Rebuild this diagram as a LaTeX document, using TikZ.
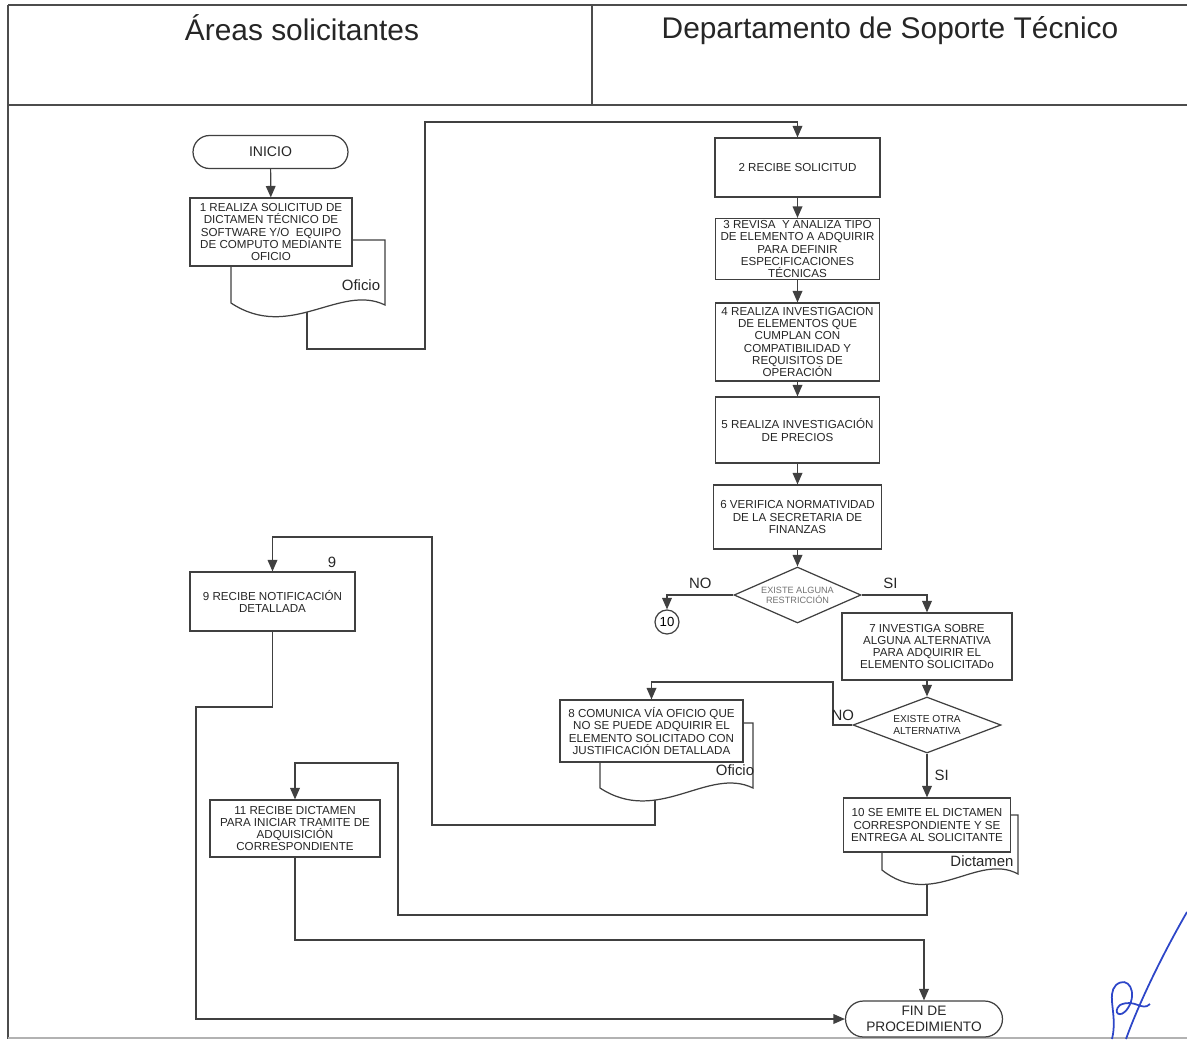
\documentclass[tikz,border=0pt]{standalone}
\usepackage{fontspec}
\setmainfont{Liberation Sans}
\usetikzlibrary{shapes.geometric,shapes.misc,arrows.meta,backgrounds}
\definecolor{firma}{RGB}{45,70,200}

\begin{document}
\begin{tikzpicture}[x=0.02cm, y=-0.02cm,
    marco/.style={draw=black!70, line width=0.8pt},
    flecha/.style={draw=black!75, line width=0.7pt, -{Triangle[length=6.5pt,width=5.5pt]}},
    hoja/.style={draw=black!75, line width=0.7pt, fill=white},
    paso/.style={rectangle, draw=black!75, line width=0.7pt, fill=white, align=center, inner sep=0pt,
        font=\fontsize{6.6}{7}\selectfont, text=black!85},
    pregunta/.style={diamond, draw=black!75, line width=0.7pt, fill=white, align=center, inner sep=0pt, aspect=2.3},
    limite/.style={rounded rectangle, draw=black!75, line width=0.7pt, fill=white, align=center, inner sep=0pt, text=black!85},
    etiq/.style={font=\fontsize{8.5}{10}\selectfont, text=black!85, inner sep=1pt}]
    \useasboundingbox (0,0) rectangle (1187,1039);

    % frame and lanes
    \draw[marco] (8,5) -- (1187,5);
    \draw[marco] (8,105) -- (1187,105);
    \draw[marco] (592,5) -- (592,105);
    \draw[marco] (8,5) -- (8,1039);
    \draw[black!30, line width=0.8pt] (8,1038) -- (1187,1038);
    \node[font=\fontsize{17}{20}\selectfont, text=black!85, anchor=base] (carril1) at (302,40) {Áreas solicitantes};
    \node[font=\fontsize{17}{20}\selectfont, text=black!85, anchor=base] (carril2) at (890,38) {Departamento de Soporte Técnico};

    % documents behind the boxes
    \draw[hoja] (231,240) -- (385,240) -- (385,305) .. controls (340,283) and (290,342) .. (231,303) -- cycle;
    \node[etiq] (of1) at (361,285) {Oficio};
    \coordinate (o1) at (307,300);
    \draw[hoja] (600,723) -- (753,723) -- (753,788) .. controls (708,766) and (658,826) .. (600,788) -- cycle;
    \node[etiq] (of8) at (735,770) {Oficio};
    \coordinate (o8) at (655,778);
    \draw[hoja] (882,815) -- (1018,815) -- (1018,874) .. controls (978,852) and (932,910) .. (882,870) -- cycle;
    \node[etiq] (dic) at (982,861) {Dictamen};
    \coordinate (o10) at (927,862);

    % left lane
    \node[limite, minimum width=3.1cm, minimum height=0.66cm, font=\fontsize{8}{9}\selectfont] (inicio) at (270.5,152) {INICIO};
    \node[paso, minimum width=3.24cm, minimum height=1.36cm] (a1) at (271,232)
        {1 REALIZA SOLICITUD DE\\DICTAMEN TÉCNICO DE\\SOFTWARE Y/O \ EQUIPO\\DE COMPUTO MEDIANTE\\OFICIO};
    \node[paso, minimum width=3.3cm, minimum height=1.18cm] (a9) at (272.5,601.5)
        {9 RECIBE NOTIFICACIÓN\\DETALLADA};
    \node[etiq] (n9) at (332,562) {9};
    \node[paso, minimum width=3.4cm, minimum height=1.14cm] (a11) at (295,828.5)
        {11 RECIBE DICTAMEN\\PARA INICIAR TRAMITE DE\\ADQUISICIÓN\\CORRESPONDIENTE};

    % right lane
    \node[paso, minimum width=3.3cm, minimum height=1.18cm] (a2) at (797.5,167.5) {2 RECIBE SOLICITUD};
    \node[paso, minimum width=3.28cm, minimum height=1.22cm] (a3) at (797.5,249)
        {3 REVISA \ Y ANALIZA TIPO\\DE ELEMENTO A ADQUIRIR\\PARA DEFINIR\\ESPECIFICACIONES\\TÉCNICAS};
    \node[paso, minimum width=3.28cm, minimum height=1.56cm] (a4) at (797.5,342)
        {4 REALIZA INVESTIGACION\\DE ELEMENTOS QUE\\CUMPLAN CON\\COMPATIBILIDAD Y\\REQUISITOS DE\\OPERACIÓN};
    \node[paso, minimum width=3.28cm, minimum height=1.32cm] (a5) at (797.5,430)
        {5 REALIZA INVESTIGACIÓN\\DE PRECIOS};
    \node[paso, minimum width=3.36cm, minimum height=1.28cm] (a6) at (797.5,517)
        {6 VERIFICA NORMATIVIDAD\\DE LA SECRETARIA DE\\FINANZAS};
    \node[pregunta, minimum width=2.54cm, minimum height=1.12cm, font=\fontsize{5.2}{5.8}\selectfont, text=black!55] (d1) at (797.5,595)
        {EXISTE ALGUNA\\RESTRICCIÓN};
    \node[circle, draw=black!75, line width=0.7pt, fill=white, minimum size=0.48cm, inner sep=0pt, font=\fontsize{7.5}{9}\selectfont] (c10) at (667,622) {10};
    \node[paso, minimum width=3.4cm, minimum height=1.34cm] (a7) at (927,646.5)
        {7 INVESTIGA SOBRE\\ALGUNA ALTERNATIVA\\PARA ADQUIRIR EL\\ELEMENTO SOLICITADo};
    \node[pregunta, minimum width=2.96cm, minimum height=1.12cm, font=\fontsize{5.8}{6.6}\selectfont, text=black!85] (d2) at (927,725)
        {EXISTE OTRA\\ALTERNATIVA};
    \node[paso, minimum width=3.66cm, minimum height=1.24cm] (a8) at (651.5,731)
        {8 COMUNICA VÍA OFICIO QUE\\NO SE PUEDE ADQUIRIR EL\\ELEMENTO SOLICITADO CON\\JUSTIFICACIÓN DETALLADA};
    \node[paso, minimum width=3.34cm, minimum height=1.08cm] (a10) at (927,825)
        {10 SE EMITE EL DICTAMEN\\CORRESPONDIENTE Y SE\\ENTREGA AL SOLICITANTE};
    \node[limite, minimum width=3.14cm, minimum height=0.72cm, font=\fontsize{7.8}{8.8}\selectfont] (fin) at (924,1019)
        {FIN DE\\PROCEDIMIENTO};

    % connectors
    \begin{scope}[on background layer]
        \draw[flecha] (inicio) -- (a1);
        \draw[flecha] (o1) |- (425,349) -- (425,122) -| (a2.north);
        \draw[flecha] (a2) -- (a3);
        \draw[flecha] (a3) -- (a4);
        \draw[flecha] (a4) -- (a5);
        \draw[flecha] (a5) -- (a6);
        \draw[flecha] (a6) -- (d1);
        \draw[flecha] (d1.west) -| node[etiq, pos=0.25, above=2pt] (no1) {NO} (c10.north);
        \draw[flecha] (d1.east) -| node[etiq, pos=0.22, above=2pt] (si1) {SI} (a7.north);
        \draw[flecha] (a7) -- (d2);
        \draw[flecha] (d2.west) -- node[etiq, above=1pt] (no2) {NO} (833,725) -- (833,682) -| (a8.north);
        \draw[flecha] (d2) -- node[etiq, right=3pt] (si2) {SI} (a10);
        \draw[flecha] (o8) |- (432,825) -- (432,537) -| (a9.north);
        \draw[flecha] (a9.south) |- (196,707) |- (fin.west);
        \draw[flecha] (o10) |- (398,915) -- (398,763) -| (a11.north);
        \draw[flecha] (a11.south) -- (295,940) -| (fin.north);
    \end{scope}

    % signature
    \draw[firma, line width=1pt] (1187,912) .. controls (1165,950) and (1140,1000) .. (1126,1039);
    \draw[firma, line width=1pt] (1112,1039) .. controls (1118,1015) and (1106,995) .. (1116,985)
        .. controls (1128,975) and (1138,992) .. (1128,1008) .. controls (1120,1020) and (1112,1012) .. (1120,1005)
        .. controls (1135,998) and (1142,1012) .. (1150,1004);
\end{tikzpicture}
\end{document}
